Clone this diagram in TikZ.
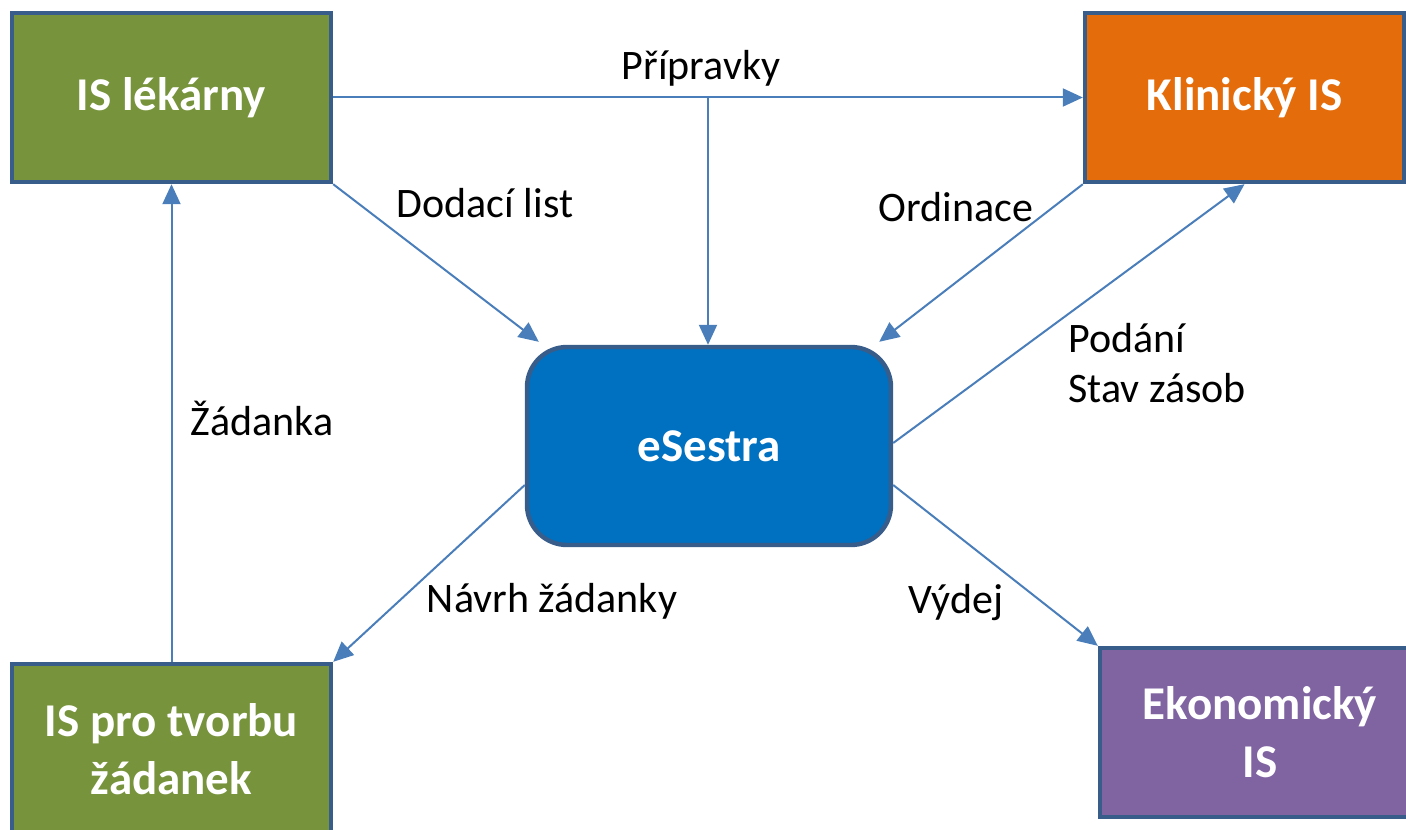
\documentclass[tikz,border=0pt]{standalone}
\usepackage{fontspec}
\setmainfont{Carlito}
\usetikzlibrary{arrows.meta,calc}
\definecolor{cgreen}{HTML}{77933C}
\definecolor{corange}{HTML}{E46C0A}
\definecolor{cblue}{HTML}{0070C0}
\definecolor{cpurple}{HTML}{8064A2}
\definecolor{cborder}{HTML}{385D8A}
\definecolor{carrow}{HTML}{4A7EBB}
\tikzset{
  box/.style={draw=cborder, line width=2.2pt, text=white, font=\fontsize{23.5}{29}\selectfont\bfseries, align=center, inner sep=0pt, minimum width=159.5pt, minimum height=84.5pt},
  conn/.style={draw=carrow, line width=1pt, -{Triangle[length=10pt,width=9pt]}},
  lbl/.style={font=\fontsize{21}{25}\selectfont, text=black, inner sep=0pt}
}
\begin{document}
\begin{tikzpicture}[x=0.5pt,y=-0.5pt]
\path[use as bounding box] (0,0) rectangle (1406,829);
\clip (0,0) rectangle (1406,829);
\node[box, fill=cgreen] (lek) at (171.5,97.5) {IS lékárny};
\node[box, fill=corange] (kli) at (1244.5,97.5) {Klinický IS};
\node[box, fill=cblue, rounded corners=20pt, minimum width=182pt, minimum height=99pt] (ses) at (709,446) {eSestra};
\node[box, fill=cgreen, minimum height=85pt] (zad) at (171.5,749) {IS pro tvorbu\\žádanek};
\node[box, fill=cpurple, minimum width=160pt] (eko) at (1260,732.5) {Ekonomický\\IS};
\coordinate (p) at (708,97.5);
\draw[conn] (lek.east) -- (kli.west);
\draw[conn] (p) -- (p |- ses.north);
\draw[conn] (lek.south east) -- ($(ses.north west)+(14,-3)$);
\draw[conn] (kli.south west) -- ($(ses.north east)+(-14,-3)$);
\draw[conn] ($(ses.east)+(0,-3)$) -- (kli.south);
\draw[conn] ($(ses.east)+(0,39)$) -- (eko.north west);
\draw[conn] ($(ses.west)+(0,39)$) -- (zad.north east);
\draw[conn] (zad.north) -- (lek.south);
\node[lbl] (l1) at (701,68) {Přípravky};
\node[lbl] (l2) at (485,203) {Dodací list};
\node[lbl] (l3) at (956,207) {Ordinace};
\node[lbl] (l4) at (262,418) {Žádanka};
\node[lbl] (l5) at (552,601) {Návrh žádanky};
\node[lbl] (l6) at (956,603) {Výdej};
\node[lbl, anchor=west, align=left] (l7) at (1068,363) {Podání\\Stav zásob};
\end{tikzpicture}
\end{document}
